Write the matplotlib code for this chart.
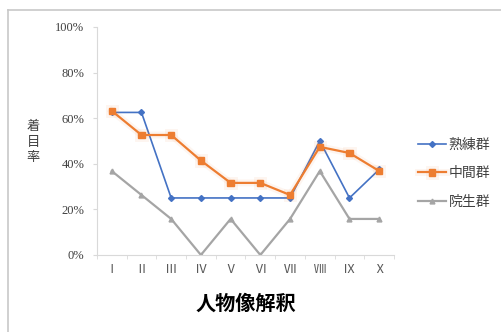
import matplotlib.pyplot as plt
import matplotlib.patheffects as pe
from matplotlib.lines import Line2D

plt.rcParams['font.family'] = ['Noto Sans CJK JP', 'DejaVu Sans']

# 着目率 per interpretation item
categories = ['Ⅰ', 'Ⅱ', 'Ⅲ', 'Ⅳ', 'Ⅴ', 'Ⅵ', 'Ⅶ', 'Ⅷ', 'Ⅸ', 'Ⅹ']
skilled = [62.5, 62.5, 25, 25, 25, 25, 25, 50, 25, 37.5]
middle = [63.2, 52.6, 52.6, 41.4, 31.6, 31.6, 26.3, 47.4, 44.7, 36.8]
students = [36.8, 26.3, 15.8, 0, 15.8, 0, 15.8, 36.8, 15.8, 15.8]
series_names = ['熟練群', '中間群', '院生群']
y_ticks = [0, 20, 40, 60, 80, 100]

fig = plt.figure(figsize=(5.02, 3.32), dpi=100)
ax = fig.add_axes([0.193, 0.232, 0.592, 0.687])

x = list(range(len(categories)))
ax.plot(x, skilled, color='#4472C4', lw=1.2, marker='D', ms=3, label=series_names[0])
ax.plot(x, middle, color='#ED7D31', lw=1.6, marker='s', ms=4.5, label=series_names[1],
        path_effects=[pe.Stroke(linewidth=5, foreground='#ED7D31', alpha=0.07), pe.Normal()])
ax.plot(x, students, color='#A5A5A5', lw=1.6, marker='^', ms=3.5, label=series_names[2])

ax.set_xlim(-0.5, len(categories) - 0.5)
ax.set_ylim(0, 100)
ax.set_yticks(y_ticks)
ax.set_yticklabels([f'{v}%' for v in y_ticks], family='Liberation Serif', fontsize=9, color='#404040')
ax.set_xticks(x)
ax.set_xticklabels(categories, fontsize=9, color='#595959')
ax.set_xticks([i + 0.5 for i in range(-1, len(categories))], minor=True)
ax.tick_params(axis='x', which='major', length=0, pad=6)
ax.tick_params(axis='x', which='minor', length=3, color='#D9D9D9')
ax.tick_params(axis='y', length=3, color='#D9D9D9', pad=6)

for s in ['top', 'right']:
    ax.spines[s].set_visible(False)
for s in ['left', 'bottom']:
    ax.spines[s].set_color('#D9D9D9')

ax.set_xlabel('人物像解釈', fontsize=14.5, fontweight='bold', labelpad=12)
fig.text(0.066, 0.572, '着\n目\n率', fontsize=9.5, color='#404040', ha='center', va='center', linespacing=1.25)

ax.legend(loc='upper left', bbox_to_anchor=(0.822, 0.602), bbox_transform=fig.transFigure,
          frameon=False, fontsize=10, handlelength=2.0, labelspacing=1.05, handletextpad=0.2,
          labelcolor='#404040', borderaxespad=0)

# outer chart frame
fig.add_artist(Line2D([0.015, 1.0], [0.971, 0.971], transform=fig.transFigure, color='#C8C8C8', lw=1.2))
fig.add_artist(Line2D([0.015, 0.015], [0.0, 0.971], transform=fig.transFigure, color='#C8C8C8', lw=1.2))

fig.savefig('out.png', dpi=100)
